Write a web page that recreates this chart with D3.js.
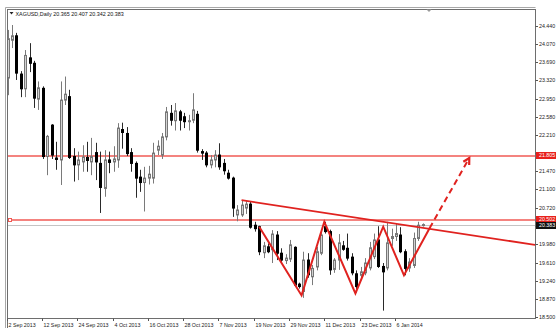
<!DOCTYPE html>
<html>
<head>
<meta charset="utf-8">
<script src="https://cdn.jsdelivr.net/npm/d3@7"></script>
<style>
  body { margin: 0; background: #fff; }
  text { font-family: "Liberation Sans", Arial, sans-serif; }
</style>
</head>
<body>
<svg id="chart" width="556" height="330"></svg>
<script>
const symbol = "XAGUSD,Daily";

// daily bars, 2 Sep 2013 .. 14 Jan 2014
const opens = [23.37, 24.14, 24.23, 23.45, 23.15, 23.78, 23.67, 22.94, 23.16, 21.77,
    22.41, 21.74, 21.70, 22.92, 22.99, 21.77, 21.60, 21.66, 21.75, 21.66,
    21.85, 21.63, 21.12, 21.70, 21.66, 21.70, 22.32, 22.24, 21.85, 21.63,
    21.35, 21.24, 21.33, 21.33, 21.90, 21.80, 22.17, 22.65, 22.50, 22.68,
    22.58, 22.49, 22.51, 22.63, 21.87, 21.84, 21.60, 21.70, 21.80, 21.63,
    21.43, 21.33, 20.58, 20.58, 20.72, 20.80, 20.37, 20.34, 19.81, 19.93,
    19.87, 20.17, 19.80, 19.65, 19.68, 19.92, 19.17, 19.02, 19.66, 19.32,
    19.52, 19.80, 20.34, 20.24, 19.47, 19.66, 19.95, 19.90, 19.72, 19.38,
    19.35, 19.40, 19.50, 19.73, 20.07, 19.53, 19.50, 20.10, 20.14, 20.17,
    19.83, 19.50, 19.55, 20.10, 20.365];
const highs = [24.35, 24.45, 24.29, 23.51, 23.94, 24.08, 23.72, 23.30, 23.20, 22.21,
    22.43, 22.07, 23.30, 23.40, 23.13, 21.94, 21.87, 22.00, 22.07, 22.15,
    22.05, 21.87, 21.90, 21.87, 21.98, 22.45, 22.46, 22.37, 21.94, 21.67,
    21.50, 21.56, 21.58, 22.05, 22.10, 22.25, 22.78, 22.82, 22.86, 22.72,
    22.66, 22.62, 23.06, 22.70, 21.92, 21.88, 21.80, 21.90, 22.04, 21.72,
    21.50, 21.36, 20.78, 20.88, 20.86, 20.86, 20.44, 20.36, 20.03, 20.00,
    20.27, 20.25, 19.90, 19.78, 20.07, 19.94, 19.20, 19.83, 19.80, 19.56,
    19.93, 20.24, 20.44, 20.28, 19.70, 20.19, 20.05, 20.20, 19.80, 19.45,
    19.52, 19.70, 20.03, 20.20, 20.35, 19.60, 20.44, 20.30, 20.40, 20.33,
    19.88, 19.70, 20.22, 20.44, 20.407];
const lows = [23.02, 23.98, 23.33, 22.98, 22.98, 23.49, 22.76, 22.72, 21.72, 21.39,
    21.72, 21.50, 21.19, 22.82, 21.72, 21.26, 21.29, 21.46, 21.46, 21.39,
    21.29, 20.62, 20.95, 21.43, 21.46, 21.54, 21.93, 21.78, 21.46, 20.93,
    21.05, 20.65, 21.20, 21.22, 21.80, 21.72, 22.10, 22.40, 22.30, 22.30,
    22.35, 22.30, 22.45, 21.85, 21.70, 21.55, 21.53, 21.55, 21.50, 21.40,
    21.30, 20.54, 20.45, 20.54, 20.60, 20.30, 20.24, 19.76, 19.70, 19.80,
    19.60, 19.66, 19.60, 19.58, 19.62, 19.12, 19.08, 18.89, 19.30, 19.15,
    19.45, 19.76, 20.20, 19.36, 19.40, 19.46, 19.85, 19.65, 19.35, 19.00,
    19.25, 19.35, 19.45, 19.68, 19.50, 18.63, 19.45, 19.95, 20.05, 19.80,
    19.35, 19.42, 19.50, 20.05, 20.342];
const closes = [24.17, 24.23, 23.47, 23.15, 23.83, 23.67, 22.96, 23.17, 21.77, 22.18,
    21.80, 21.71, 22.92, 23.04, 21.75, 21.60, 21.70, 21.76, 21.69, 21.77,
    21.66, 21.14, 21.70, 21.65, 21.72, 22.35, 22.26, 21.83, 21.63, 21.33,
    21.24, 21.33, 21.41, 21.84, 21.98, 22.17, 22.68, 22.51, 22.70, 22.51,
    22.48, 22.50, 22.72, 21.90, 21.84, 21.60, 21.70, 21.80, 21.56, 21.48,
    21.33, 20.72, 20.68, 20.78, 20.80, 20.33, 20.30, 19.83, 19.95, 19.83,
    20.19, 19.80, 19.66, 19.70, 19.97, 19.15, 19.12, 19.66, 19.36, 19.49,
    19.83, 20.17, 20.24, 19.46, 19.66, 20.01, 19.88, 19.70, 19.40, 19.12,
    19.42, 19.60, 19.91, 20.07, 19.53, 19.42, 20.01, 20.14, 20.20, 19.83,
    19.49, 19.62, 20.10, 20.37, 20.383];

const dateLabels = ["2 Sep 2013", "12 Sep 2013", "24 Sep 2013", "4 Oct 2013", "16 Oct 2013",
    "28 Oct 2013", "7 Nov 2013", "19 Nov 2013", "29 Nov 2013", "11 Dec 2013",
    "23 Dec 2013", "6 Jan 2014"];
const labelEvery = 8;
const priceTicks = [24.440, 24.070, 23.690, 23.320, 22.950, 22.580, 22.210, 21.840, 21.470,
    21.100, 20.720, 20.350, 19.980, 19.610, 19.240, 18.870, 18.500];

// drawing objects: [bar index, price]
const levels = [21.805, 20.502];
const bidPrice = 20.383;
const trendline = [[53.0, 20.88], [119.5, 19.97]];
const zigzag = [[57.0, 20.34], [66.6, 18.94], [71.75, 20.44], [78.8, 18.98],
    [85.1, 20.34], [89.8, 19.35], [95.6, 20.31]];
const arrowLine = [[95.6, 20.31], [104.6, 21.74]];

const svg = d3.select("#chart");
const plot = { left: 7.5, right: 535.5, top: 9.5, bottom: 318.5 };

const x = d3.scaleLinear().domain([0, 119.6]).range([7.6, 535.5]);
const y = d3.scaleLinear().domain([18.5, 24.44]).range([317, 25.5]);

svg.append("defs").append("clipPath").attr("id", "plotClip")
    .append("rect")
    .attr("x", plot.left + 0.5).attr("y", plot.top + 0.5)
    .attr("width", plot.right - plot.left - 1).attr("height", plot.bottom - plot.top - 1);

// window frame
const frame = svg.append("g").attr("fill", "none");
frame.append("path").attr("d", `M5.5,328 V7.5 H${plot.right}`).attr("stroke", "#a8a8a8");
frame.append("rect")
    .attr("x", plot.left).attr("y", plot.top)
    .attr("width", plot.right - plot.left).attr("height", plot.bottom - plot.top)
    .attr("stroke", "#6e6e6e");
frame.append("line").attr("x1", plot.left).attr("x2", plot.left)
    .attr("y1", plot.bottom).attr("y2", 328).attr("stroke", "#6e6e6e");

// header
svg.append("path").attr("d", "M9.5,12 L13.5,12 L11.5,14.5 Z").attr("fill", "#222");
svg.append("text")
    .attr("x", 15.5).attr("y", 15.8)
    .attr("font-size", 5.4).attr("fill", "#111")
    .text(`${symbol}  ${opens[opens.length - 1].toFixed(3)} ${highs[highs.length - 1].toFixed(3)} ${lows[lows.length - 1].toFixed(3)} ${closes[closes.length - 1].toFixed(3)}`);

// chart shift marker
svg.append("path").attr("d", "M426.5,9.5 L431.5,9.5 L429,12 Z").attr("fill", "#9a9a9a");

// price labels that sit on the axis (drawn last, they hide the tick under them)
const boxes = [
    { v: levels[0], fill: "#e8201c" },
    { v: levels[1], fill: "#e8201c" },
    { v: bidPrice, fill: "#111" }
];

// price axis
const yAxis = svg.append("g");
priceTicks.forEach(t => {
    const py = Math.round(y(t)) + 0.5;
    yAxis.append("line").attr("x1", plot.right).attr("x2", plot.right + 2.5)
        .attr("y1", py).attr("y2", py).attr("stroke", "#555");
    const covered = boxes.some(b => Math.abs(y(b.v) - py) < 6);
    if (covered) return;
    yAxis.append("text").attr("x", plot.right + 3.5).attr("y", py)
        .attr("dy", "0.36em").attr("font-size", 5.3).attr("fill", "#222")
        .text(t.toFixed(3));
});

// time axis
const xAxis = svg.append("g");
dateLabels.forEach((d, k) => {
    const px = Math.round(x(k * labelEvery)) - 0.5;
    xAxis.append("line").attr("x1", px).attr("x2", px)
        .attr("y1", plot.bottom).attr("y2", plot.bottom + 2.5).attr("stroke", "#555");
    xAxis.append("text").attr("x", px + 1).attr("y", 326.5)
        .attr("font-size", 5.3).attr("fill", "#222").text(d);
});

const g = svg.append("g").attr("clip-path", "url(#plotClip)");

// horizontal levels
g.append("line")
    .attr("x1", plot.left).attr("x2", plot.right)
    .attr("y1", Math.round(y(bidPrice)) + 0.5).attr("y2", Math.round(y(bidPrice)) + 0.5)
    .attr("stroke", "#c4c4c4");
levels.forEach(v => {
    g.append("line")
        .attr("x1", plot.left).attr("x2", plot.right)
        .attr("y1", Math.round(y(v)) + 1).attr("y2", Math.round(y(v)) + 1)
        .attr("stroke", "#f05a55").attr("stroke-width", 1.4);
});
g.append("rect")
    .attr("x", 8.5).attr("y", Math.round(y(levels[1])) - 0.5)
    .attr("width", 3).attr("height", 3)
    .attr("fill", "#fff").attr("stroke", "#f05a55");

// candles
const candles = g.append("g");
opens.forEach((o, i) => {
    const c = closes[i];
    const cx = Math.round(x(i)) + 0.5;
    const up = c >= o;
    candles.append("line")
        .attr("x1", cx).attr("x2", cx)
        .attr("y1", y(highs[i])).attr("y2", y(lows[i]))
        .attr("stroke", up ? "#7a7a7a" : "#2a2a2a");
    const top = y(Math.max(o, c));
    const h = Math.max(1, Math.abs(y(o) - y(c)));
    candles.append("rect")
        .attr("x", cx - 1).attr("y", top)
        .attr("width", 2).attr("height", h)
        .attr("fill", up ? "#d2d2d2" : "#000")
        .attr("stroke", up ? "#767676" : "#000");
});

// analyst drawings
const red = "#e0221f";
const path = d3.line().x(d => x(d[0])).y(d => y(d[1]));
g.append("path").attr("d", path(trendline))
    .attr("fill", "none").attr("stroke", red).attr("stroke-width", 1.8);
g.append("path").attr("d", path(zigzag))
    .attr("fill", "none").attr("stroke", red).attr("stroke-width", 2)
    .attr("stroke-linejoin", "miter");
g.append("path").attr("d", path(arrowLine))
    .attr("fill", "none").attr("stroke", red).attr("stroke-width", 2)
    .attr("stroke-dasharray", "6,4");

// arrow head
const p0 = [x(arrowLine[0][0]), y(arrowLine[0][1])];
const p1 = [x(arrowLine[1][0]), y(arrowLine[1][1])];
const ang = Math.atan2(p1[1] - p0[1], p1[0] - p0[0]);
const headLen = 7, spread = 0.5;
const hA = [p1[0] - headLen * Math.cos(ang - spread), p1[1] - headLen * Math.sin(ang - spread)];
const hB = [p1[0] - headLen * Math.cos(ang + spread), p1[1] - headLen * Math.sin(ang + spread)];
g.append("path")
    .attr("d", `M${hA[0]},${hA[1]} L${p1[0]},${p1[1]} L${hB[0]},${hB[1]}`)
    .attr("fill", "none").attr("stroke", red).attr("stroke-width", 2.2);

boxes.forEach(b => {
    const py = Math.round(y(b.v)) + 0.5;
    svg.append("rect")
        .attr("x", plot.right + 0.5).attr("y", py - 3.5)
        .attr("width", 20).attr("height", 7)
        .attr("fill", b.fill);
    svg.append("text").attr("x", plot.right + 3.5).attr("y", py)
        .attr("dy", "0.36em").attr("font-size", 5.3).attr("fill", "#fff")
        .text(b.v.toFixed(3));
});
</script>
</body>
</html>
